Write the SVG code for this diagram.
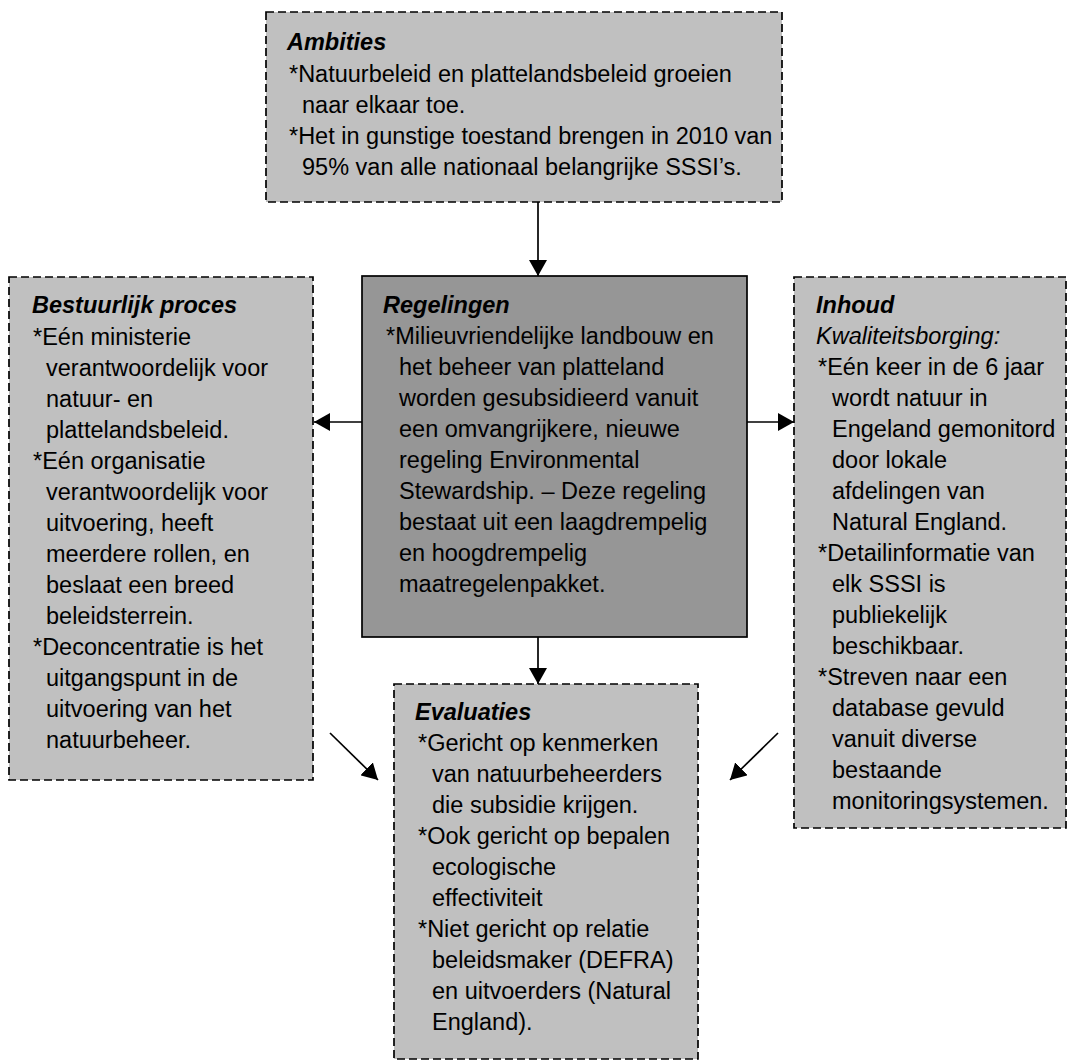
<svg xmlns="http://www.w3.org/2000/svg" width="1075" height="1064" viewBox="0 0 1075 1064">
  <defs>
    <style>
      .box { fill: #c0c0c0; stroke: #000; stroke-width: 1.7; stroke-dasharray: 8 4; }
      .core { fill: #969696; stroke: #000; stroke-width: 1.7; }
      text { font-family: "Liberation Sans", Arial, sans-serif; font-size: 23.5px; fill: #000; }
      .head { font-weight: bold; font-style: italic; }
      .ital { font-style: italic; }
      .link { stroke: #000; stroke-width: 1.7; fill: none; marker-end: url(#tip); }
    </style>
    <marker id="tip" markerUnits="userSpaceOnUse" markerWidth="17" markerHeight="18" refX="16" refY="9" orient="auto">
      <path d="M0,0 L16,9 L0,18 z" fill="#000"/>
    </marker>
  </defs>
  <rect width="1075" height="1064" fill="#fff"/>

  <!-- Ambities -->
  <g id="ambities">
    <rect class="box" x="266" y="12" width="516" height="190"/>
    <text class="head" x="287" y="50">Ambities</text>
    <text x="289" y="82">*Natuurbeleid en plattelandsbeleid groeien</text>
    <text x="302" y="113">naar elkaar toe.</text>
    <text x="289" y="144">*Het in gunstige toestand brengen in 2010 van</text>
    <text x="302" y="175">95% van alle nationaal belangrijke SSSI’s.</text>
  </g>

  <!-- Bestuurlijk proces -->
  <g id="bestuurlijk-proces">
    <rect class="box" x="9" y="277" width="304" height="503"/>
    <text class="head" x="32" y="313">Bestuurlijk proces</text>
    <text x="33" y="345">*Eén ministerie</text>
    <text x="46" y="376">verantwoordelijk voor</text>
    <text x="46" y="407">natuur- en</text>
    <text x="46" y="438">plattelandsbeleid.</text>
    <text x="33" y="469">*Eén organisatie</text>
    <text x="46" y="500">verantwoordelijk voor</text>
    <text x="46" y="531">uitvoering, heeft</text>
    <text x="46" y="562">meerdere rollen, en</text>
    <text x="46" y="593">beslaat een breed</text>
    <text x="46" y="624">beleidsterrein.</text>
    <text x="33" y="655">*Deconcentratie is het</text>
    <text x="46" y="686">uitgangspunt in de</text>
    <text x="46" y="717">uitvoering van het</text>
    <text x="46" y="748">natuurbeheer.</text>
  </g>

  <!-- Regelingen -->
  <g id="regelingen">
    <rect class="core" x="362" y="276" width="385" height="361"/>
    <text class="head" x="383" y="313">Regelingen</text>
    <text x="386" y="344">*Milieuvriendelijke landbouw en</text>
    <text x="399" y="375">het beheer van platteland</text>
    <text x="399" y="406">worden gesubsidieerd vanuit</text>
    <text x="399" y="437">een omvangrijkere, nieuwe</text>
    <text x="399" y="468">regeling Environmental</text>
    <text x="399" y="499">Stewardship. – Deze regeling</text>
    <text x="399" y="530">bestaat uit een laagdrempelig</text>
    <text x="399" y="561">en hoogdrempelig</text>
    <text x="399" y="592">maatregelenpakket.</text>
  </g>

  <!-- Inhoud -->
  <g id="inhoud">
    <rect class="box" x="794" y="277" width="272" height="551"/>
    <text class="head" x="816" y="313">Inhoud</text>
    <text class="ital" x="816" y="344">Kwaliteitsborging:</text>
    <text x="818" y="375">*Eén keer in de 6 jaar</text>
    <text x="832" y="406">wordt natuur in</text>
    <text x="832" y="437">Engeland gemonitord</text>
    <text x="832" y="468">door lokale</text>
    <text x="832" y="499">afdelingen van</text>
    <text x="832" y="530">Natural England.</text>
    <text x="818" y="561">*Detailinformatie van</text>
    <text x="832" y="592">elk SSSI is</text>
    <text x="832" y="623">publiekelijk</text>
    <text x="832" y="654">beschikbaar.</text>
    <text x="818" y="685">*Streven naar een</text>
    <text x="832" y="716">database gevuld</text>
    <text x="832" y="747">vanuit diverse</text>
    <text x="832" y="778">bestaande</text>
    <text x="832" y="809">monitoringsystemen.</text>
  </g>

  <!-- Evaluaties -->
  <g id="evaluaties">
    <rect class="box" x="394" y="684" width="304" height="375"/>
    <text class="head" x="415" y="720">Evaluaties</text>
    <text x="418" y="751">*Gericht op kenmerken</text>
    <text x="432" y="782">van natuurbeheerders</text>
    <text x="432" y="813">die subsidie krijgen.</text>
    <text x="418" y="844">*Ook gericht op bepalen</text>
    <text x="432" y="875">ecologische</text>
    <text x="432" y="906">effectiviteit</text>
    <text x="418" y="937">*Niet gericht op relatie</text>
    <text x="432" y="968">beleidsmaker (DEFRA)</text>
    <text x="432" y="999">en uitvoerders (Natural</text>
    <text x="432" y="1030">England).</text>
  </g>

  <!-- connectors -->
  <g id="connectors">
    <line class="link" x1="538" y1="202" x2="538" y2="276"/>
    <line class="link" x1="538" y1="637" x2="538" y2="684"/>
    <line class="link" x1="362" y1="422" x2="314" y2="422"/>
    <line class="link" x1="747" y1="422" x2="794" y2="422"/>
    <line class="link" x1="330" y1="733" x2="378" y2="780"/>
    <line class="link" x1="778" y1="733" x2="730" y2="780"/>
  </g>
</svg>
